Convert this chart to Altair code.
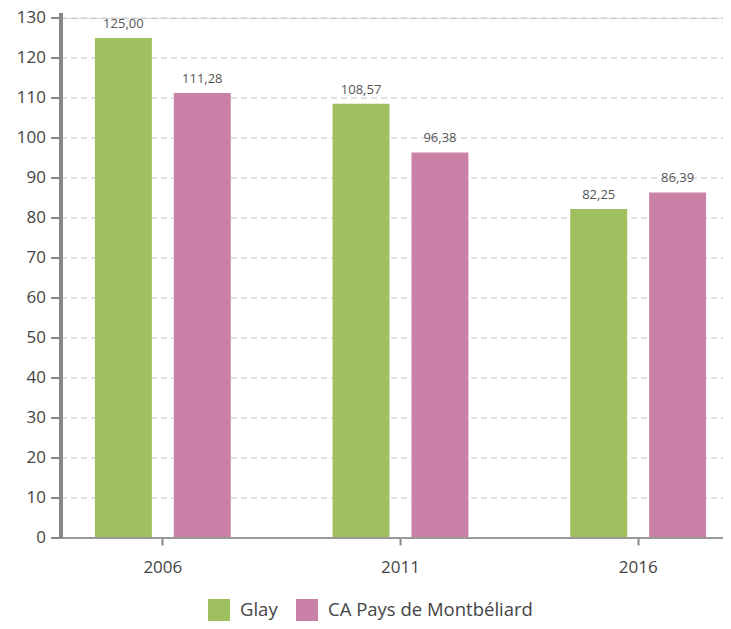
import altair as alt
import pandas as pd

years = ["2006", "2011", "2016"]
series = ["Glay", "CA Pays de Montbéliard"]
glay = [125.00, 108.57, 82.25]
capm = [111.28, 96.38, 86.39]
colors = ["#9fc05f", "#c981a8"]
yticks = list(range(0, 131, 10))

rows = []
for i, y in enumerate(years):
    for s, vals in zip(series, [glay, capm]):
        v = vals[i]
        rows.append({"year": y, "series": s, "value": v,
                     "label": f"{v:.2f}".replace(".", ",")})
df = pd.DataFrame(rows)
tdf = pd.DataFrame({"value": yticks, "txt": [str(t) for t in yticks]})

W, H = 662, 520
FONT = "Open Sans"

xscale = alt.Scale(domain=years, range=[-17, 696], paddingInner=0, paddingOuter=0)
yscale = alt.Scale(domain=[0, 130], nice=False)
Y = alt.Y("value:Q", scale=yscale, axis=None)

# gridlines, y ticks and y labels drawn from the tick list
grid = alt.Chart(tdf).mark_rule(color="#c4c4c4", strokeDash=[6, 4], strokeWidth=1).encode(
    y=Y, x=alt.value(0), x2=alt.value(W)
)
yt = alt.Chart(tdf).mark_rule(color="#888", strokeWidth=2).encode(
    y=Y, x=alt.value(-10), x2=alt.value(0)
)
ylab = alt.Chart(tdf).mark_text(align="right", baseline="middle", font=FONT,
                                fontSize=17, color="#444", dx=0).encode(
    y=Y, x=alt.value(-15), text="txt:N"
)
ydom = alt.Chart(tdf).mark_rule(color="#888", strokeWidth=3).encode(
    x=alt.value(0), y=alt.value(-5), y2=alt.value(H)
)

base = alt.Chart(df).encode(
    x=alt.X("year:N", scale=xscale, sort=years,
            axis=alt.Axis(title=None, labelAngle=0, domain=False, grid=False,
                          ticks=True, tickSize=7, tickWidth=2, tickColor="#888",
                          labelFont=FONT, labelFontSize=17, labelColor="#444",
                          labelPadding=14)),
    xOffset=alt.XOffset("series:N", sort=series,
                        scale=alt.Scale(paddingInner=0.278, paddingOuter=0.645)),
    y=Y,
)

bars = base.mark_bar().encode(
    color=alt.Color("series:N", sort=series,
                    scale=alt.Scale(domain=series, range=colors),
                    legend=alt.Legend(title=None, orient="none", direction="horizontal",
                                      legendX=147, legendY=581,
                                      symbolType="square", symbolSize=484,
                                      symbolStrokeWidth=0, symbolOpacity=1,
                                      labelFont=FONT, labelFontSize=18.5,
                                      labelLimit=0,
                                      labelColor="#444", columnPadding=18,
                                      labelOffset=10)),
)

labels = base.mark_text(baseline="bottom", dy=-7, font=FONT, fontSize=13,
                        color="#555").encode(
    text="label:N",
)

zero = alt.Chart(pd.DataFrame({"value": [0]})).mark_rule(color="#999", strokeWidth=2).encode(
    y=Y, x=alt.value(-6), x2=alt.value(W)
)

chart = alt.layer(grid, bars, zero, ydom, yt, ylab, labels).properties(
    width=W, height=H,
    autosize=alt.AutoSizeParams(type="none"),
    padding={"left": 53, "top": 10, "right": 0, "bottom": 83},
).configure_view(stroke=None).configure(background="white")

chart.save("out.html", embed_options={"renderer": "svg", "actions": False})
